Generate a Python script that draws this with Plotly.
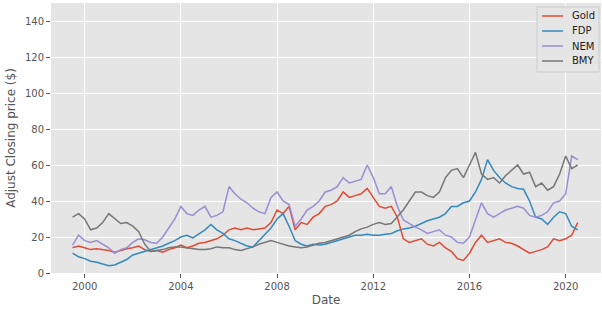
import pandas as pd
import plotly.graph_objects as go

# quarterly sample dates, Jul 1999 .. Jul 2020
dates = pd.date_range(start="1999-07-01", periods=85, freq="QS")

gold = [14, 15, 14, 13, 13.5, 13, 12.5, 11.5, 12.5, 13.5,
        14, 15, 13, 12, 12.5, 11.5, 13, 14, 15.5, 14,
        15, 16.5, 17, 18, 19, 21, 24, 25, 24, 25,
        24, 24.5, 25, 28, 35, 33, 37, 24, 28, 27,
        31, 33, 37, 38, 40, 45, 42, 43, 44, 47,
        42, 37, 36, 37, 31, 19, 17, 18, 19, 16,
        15, 17, 14, 12, 8, 7, 11, 17, 21, 17,
        18, 19, 17, 16.5, 15, 13, 11, 12, 13, 14.5,
        19, 18, 19, 21, 28]

fdp = [11, 9, 8, 6.5, 6, 5, 4, 4.5, 6, 7.5,
       10, 11, 12, 13, 14, 15, 16.5, 18, 20, 21,
       19.5, 22, 24, 27, 24, 22, 19, 18, 16.5, 15,
       14.5, 18, 21, 25, 30, 33, 26, 18, 16, 15,
       16, 15.5, 16, 17, 18, 19, 20, 21, 21, 21.5,
       21, 21, 21.5, 22, 23.5, 24.5, 25, 26, 27.5, 29,
       30, 31, 33, 37, 37, 39, 40, 45, 52, 63,
       57, 53, 50, 48, 47, 46.5, 40, 31, 30, 27,
       31, 34, 33, 26, 24]

nem = [15.5, 21, 18, 17, 18, 16, 14, 11, 13, 14,
       17, 19, 18.5, 17, 16.5, 20, 25, 30, 37, 33,
       32, 35, 37, 31, 32, 34, 48, 44, 41, 39,
       36, 34, 33, 42, 45, 40, 38, 26, 30, 35,
       37, 40, 45, 46, 48, 53, 50, 51, 52, 60,
       53, 44, 44, 48, 37, 29.5, 27.5, 25.5, 24, 22,
       23, 24, 21, 20, 17, 16.5, 20, 30, 39, 33,
       31, 33, 35, 36, 37, 36, 32, 31, 32, 34,
       39, 40, 44, 65, 63]

bmy = [31, 33, 30, 24, 25, 28, 33, 30, 27.5, 28,
       26, 23, 16, 12, 12.5, 13, 14, 14.5, 14.5, 14,
       13.5, 13, 13, 13.5, 14.5, 14, 14, 13, 12.5, 13.5,
       14.5, 16, 17, 18, 17, 16, 15, 14.5, 14, 14.5,
       15.5, 16.5, 17, 18, 19, 20, 21, 23, 24.5, 25.5,
       27, 28, 27, 27.5, 31, 35, 40, 45, 45, 43,
       42, 45, 53, 57, 58, 53, 60, 67, 55, 52,
       53, 50, 54, 57, 60, 55, 56, 48, 50, 46,
       48, 55, 65, 58, 60]

names = ["Gold", "FDP", "NEM", "BMY"]
colors = ["#E24A33", "#348ABD", "#988ED5", "#777777"]
values = [gold, fdp, nem, bmy]

fig = go.Figure()
for name, vals, color in zip(names, values, colors):
    fig.add_trace(go.Scatter(x=dates, y=vals, mode="lines", name=name,
                             line=dict(color=color, width=1.5),
                             showlegend=False))

# matplotlib-style legend box drawn in the top-right corner of the axes
L_X0, L_X1, L_Y0, L_Y1 = 0.8836, 0.9964, 0.7444, 0.9852
fig.add_shape(type="rect", xref="paper", yref="paper",
              x0=L_X0, x1=L_X1, y0=L_Y0, y1=L_Y1,
              line=dict(color="#CCCCCC", width=1), fillcolor="#E5E5E5", layer="above")
row_y = [0.9519, 0.8963, 0.8407, 0.7852]
for name, color, yy in zip(names, colors, row_y):
    fig.add_shape(type="line", xref="paper", yref="paper",
                  x0=0.8927, x1=0.9309, y0=yy, y1=yy,
                  line=dict(color=color, width=1.5), layer="above")
    fig.add_annotation(xref="paper", yref="paper", x=0.9436, y=yy,
                       xanchor="left", yanchor="middle", text=name, showarrow=False,
                       font=dict(family="DejaVu Sans", size=10, color="#222222"))

font_family = "DejaVu Sans"
fig.update_layout(
    width=602, height=310,
    margin=dict(l=51, r=1, t=3, b=37),
    paper_bgcolor="white",
    plot_bgcolor="#E5E5E5",
    font=dict(family=font_family, size=10, color="#555555"),
    showlegend=False,
)
fig.update_xaxes(
    type="date",
    range=["1998-08-08", "2021-06-20"],
    tick0="2000-01-01", dtick="M48", tickformat="%Y",
    showgrid=True, gridcolor="white", gridwidth=1,
    zeroline=False, showline=False, automargin=False,
    ticks="outside", ticklen=4, tickcolor="#555555",
    tickfont=dict(size=10, color="#555555"),
    title=dict(text="Date", font=dict(size=12, color="#555555"), standoff=4),
)
fig.update_yaxes(
    range=[0, 150], dtick=20, tick0=0,
    showgrid=True, gridcolor="white", gridwidth=1,
    zeroline=False, showline=False, automargin=False,
    ticks="outside", ticklen=4, tickcolor="#555555",
    tickfont=dict(size=10, color="#555555"),
    title=dict(text="Adjust Closing price ($)", font=dict(size=12, color="#555555"), standoff=6),
)

fig.write_html("out.html", config={"displayModeBar": False},
               post_script="document.body.style.margin='0';")
